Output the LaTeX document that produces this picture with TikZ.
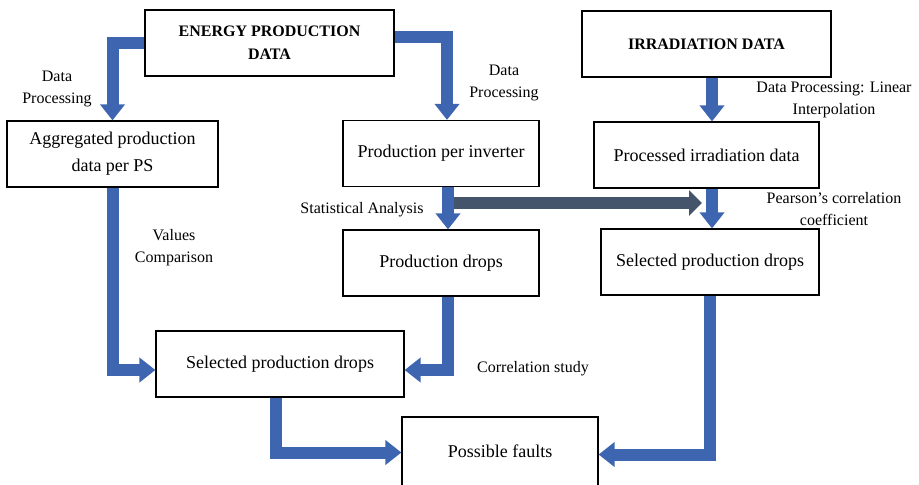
\documentclass[tikz,border=0pt]{standalone}
\usepackage{fontspec}
\setmainfont{Liberation Serif}
\usetikzlibrary{arrows.meta}
\definecolor{flowblue}{HTML}{3D65B0}
\definecolor{slate}{HTML}{44546A}

\begin{document}
\begin{tikzpicture}[
    x=0.5pt, y=-0.5pt,
    box/.style={draw, fill=white, line width=0.6pt, align=center, inner sep=0pt,
      minimum height=33pt, font=\fontsize{9}{13.5}\selectfont},
    title/.style={box, font=\bfseries\fontsize{8}{11.5}\selectfont},
    lbl/.style={font=\fontsize{8}{11}\selectfont, align=center},
    flow/.style={draw=flowblue, line width=6pt, line join=miter,
      -{Triangle[width=12pt, length=8pt]}},
    link/.style={draw=slate, line width=6pt,
      -{Triangle[width=12.5pt, length=6.5pt]}}
  ]
  \useasboundingbox (0,0) rectangle (919,484);

  % data sources
  \node[title, minimum width=124.5pt] (energy) at (269.5,43) {ENERGY PRODUCTION\\DATA};
  \node[title, minimum width=124.5pt] (irrad) at (706.5,44) {IRRADIATION DATA};

  % processing steps
  \node[box, minimum width=105.5pt] (agg) at (112.5,154) {Aggregated production\\data per PS};
  \node[box, minimum width=98pt] (inverter) at (441,153.5) {Production per inverter};
  \node[box, minimum width=112.5pt] (procirr) at (706.5,155) {Processed irradiation data};
  \node[box, minimum width=98pt] (drops) at (441,263) {Production drops};
  \node[box, minimum width=109pt] (selR) at (710,262) {Selected production drops};
  \node[box, minimum width=124pt] (selL) at (280,364) {Selected production drops};
  \node[box, minimum width=98pt, minimum height=34.5pt] (faults) at (500,451.5) {Possible faults};

  % step labels
  \node[lbl] (dpleft) at (57,89) {Data\\Processing};
  \node[lbl] (dpmid) at (504,83) {Data\\Processing};
  \node[lbl] (interp) at (834,100) {Data Processing: Linear\\Interpolation};
  \node[lbl] (pearson) at (834,209) {Pearson's correlation\\coefficient};
  \node[lbl] (stat) at (362,210) {Statistical Analysis};
  \node[lbl] (compare) at (174,248) {Values\\Comparison};
  \node[lbl] (corr) at (533,369) {Correlation study};

  % inverter data fed into the correlation step
  \coordinate (linkstart) at (454,203);
  \coordinate (linkend) at (702,203);
  \draw[link] (linkstart) -- (linkend);

  % main flow
  \draw[flow] (energy.west) -| (agg.north);
  \draw[flow] ([yshift=3pt]energy.east) -| ([xshift=3pt]inverter.north);
  \draw[flow] ([xshift=2.75pt]irrad.south) -- ([xshift=2.75pt]procirr.north);
  \draw[flow] ([xshift=2.75pt]procirr.south) -- ([xshift=1pt]selR.north);
  \draw[flow] ([xshift=3.5pt]inverter.south) -- ([xshift=3.5pt]drops.north);
  \draw[flow] (agg.south) |- ([yshift=-3pt]selL.west);
  \draw[flow] ([xshift=3.5pt]drops.south) |- ([yshift=-3pt]selL.east);
  \draw[flow] ([xshift=-2pt]selL.south) |- ([yshift=-0.5pt]faults.west);
  \draw[flow] (selR.south) |- ([yshift=-1.5pt]faults.east);
\end{tikzpicture}
\end{document}
